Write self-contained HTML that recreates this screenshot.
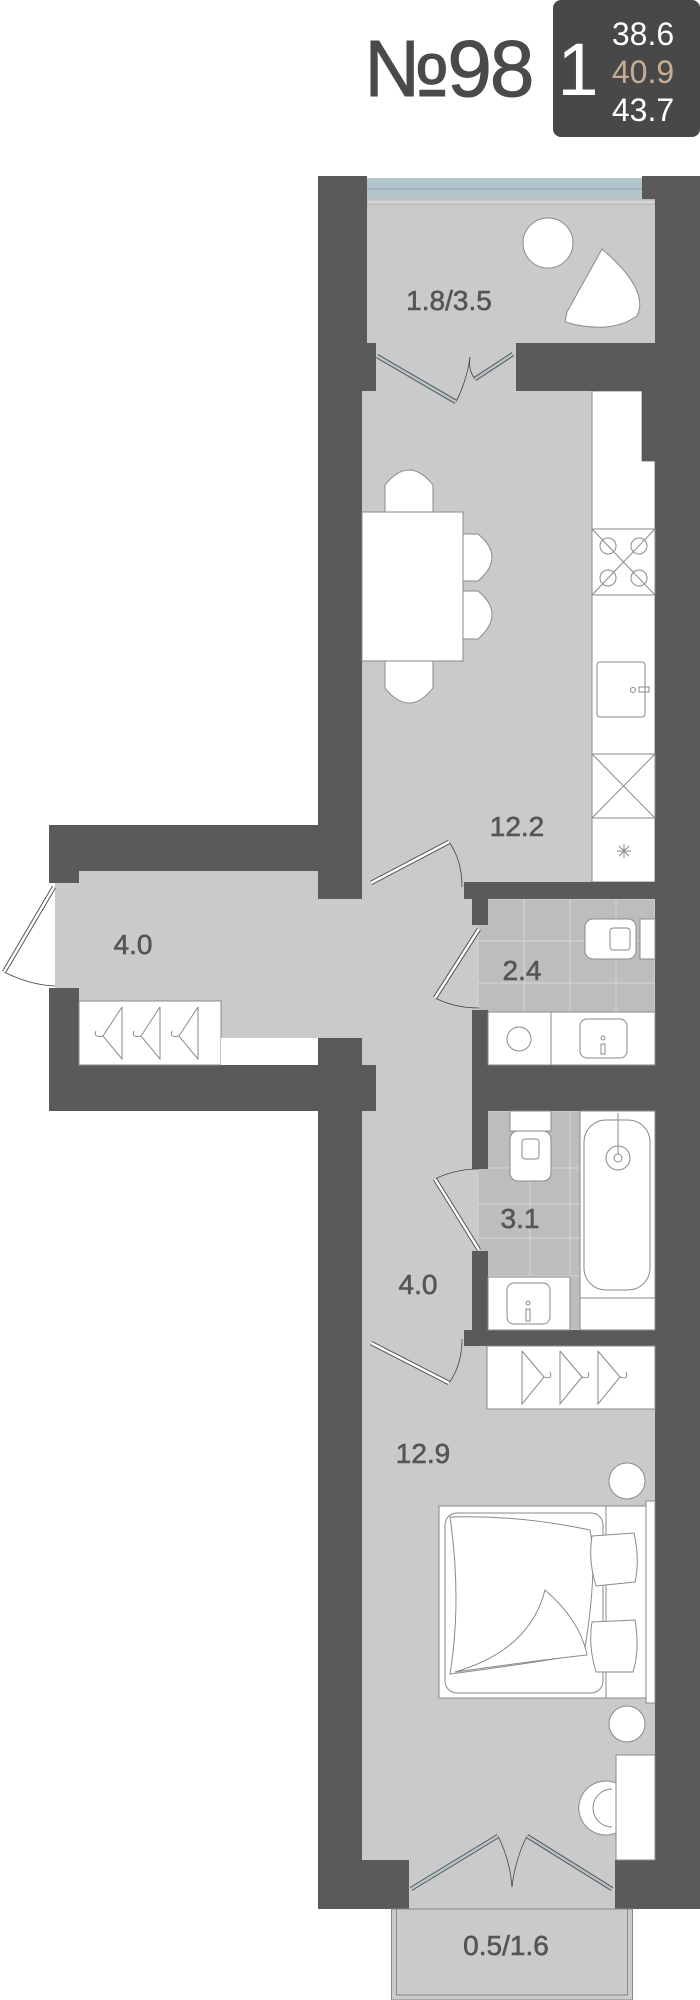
<!DOCTYPE html>
<html><head><meta charset="utf-8"><style>
html,body{margin:0;padding:0;background:#fff;}
svg{display:block;}
text{font-family:"Liberation Sans","DejaVu Sans",sans-serif;}
</style></head><body>
<svg width="700" height="2000" viewBox="0 0 700 2000" xmlns="http://www.w3.org/2000/svg">
<!-- header -->
<text x="448" y="96" font-size="80" fill="#4a4a4a" text-anchor="middle" letter-spacing="-2" stroke="#4a4a4a" stroke-width="1">№98</text>
<rect x="553" y="0" width="147" height="137" rx="8" fill="#484848"/>
<text x="578" y="95" font-size="74" fill="#fff" text-anchor="middle">1</text>
<text x="643" y="45" font-size="32" fill="#fff" text-anchor="middle">38.6</text>
<text x="643" y="83" font-size="32" fill="#c9ad93" text-anchor="middle">40.9</text>
<text x="643" y="121" font-size="32" fill="#fff" text-anchor="middle">43.7</text>

<!-- floors -->
<g fill="#cbcacb">
<rect x="362" y="199" width="293" height="1710"/>
<rect x="55" y="871" width="310" height="167"/>
<rect x="391" y="1905" width="242" height="95"/>
</g>
<!-- tiled bathrooms -->
<g fill="#bdbdbd" stroke="#d3d3d3" stroke-width="1.2">
<rect x="478" y="899" width="177" height="113"/>
<rect x="478" y="1111" width="102" height="219"/>
</g>
<g stroke="#d3d3d3" stroke-width="1.2">
<line x1="524" y1="899" x2="524" y2="1012"/><line x1="570" y1="899" x2="570" y2="1012"/><line x1="616" y1="899" x2="616" y2="1012"/>
<line x1="478" y1="941" x2="655" y2="941"/><line x1="478" y1="983" x2="655" y2="983"/>
<line x1="530" y1="1111" x2="530" y2="1330"/><line x1="570" y1="1111" x2="570" y2="1330"/>
<line x1="478" y1="1168" x2="580" y2="1168"/><line x1="478" y1="1204" x2="580" y2="1204"/><line x1="478" y1="1238" x2="580" y2="1238"/><line x1="478" y1="1276" x2="580" y2="1276"/>
</g>

<!-- window top -->
<rect x="362" y="178" width="280" height="21" fill="#b4c4cb"/>
<line x1="362" y1="189" x2="642" y2="189" stroke="#8ea0a8" stroke-width="1"/>
<rect x="367" y="200" width="288" height="4" fill="#d8d8d8" stroke="#999" stroke-width="0.6"/>

<!-- kitchen counter -->
<path d="M592 391 H642 V461 H655 V882 H592 Z" fill="#fff" stroke="#8a8a8a" stroke-width="1"/>

<!-- walls -->
<g fill="#5a5a5a">
<rect x="318" y="176" width="44" height="723"/>
<rect x="362" y="176" width="5" height="167"/>
<rect x="642" y="176" width="58" height="23"/>
<rect x="655" y="176" width="45" height="1733"/>
<rect x="318" y="343" width="58" height="48"/>
<rect x="516" y="343" width="139" height="48"/>
<rect x="642" y="391" width="13" height="70"/>
<rect x="49" y="825" width="269" height="46"/>
<rect x="49" y="825" width="30" height="58"/>
<rect x="49" y="988" width="30" height="123"/>
<rect x="49" y="1065" width="327" height="46"/>
<rect x="318" y="1038" width="44" height="73"/>
<rect x="318" y="1111" width="44" height="798"/>
<rect x="318" y="1860" width="91" height="49"/>
<rect x="615" y="1860" width="85" height="49"/>
<rect x="464" y="882" width="191" height="17"/>
<rect x="472" y="899" width="16" height="26"/>
<rect x="472" y="1010" width="16" height="101"/>
<rect x="472" y="1065" width="183" height="46"/>
<rect x="472" y="1111" width="16" height="58"/>
<rect x="472" y="1251" width="16" height="79"/>
<rect x="464" y="1330" width="191" height="16"/>
</g>

<!-- balcony bottom -->
<rect x="391.5" y="1909" width="241" height="91" fill="none" stroke="#888" stroke-width="1"/>
<rect x="396.5" y="1909" width="231" height="86" fill="none" stroke="#888" stroke-width="1"/>

<!-- furniture -->
<g fill="#fff" stroke="#8a8a8a" stroke-width="1">
<circle cx="548" cy="243" r="25"/>
<path d="M602 249 Q650 290 637 316 Q610 335 565 322 L567 312 Z"/>
<rect x="592" y="529" width="63" height="66"/>
<rect x="597" y="662" width="48" height="55" rx="3"/>
<rect x="592" y="754" width="63" height="64"/>
<!-- table & chairs -->
<path d="M385 512 L385 485 Q409 455 433 485 L433 512"/>
<path d="M385 661 L385 688 Q409 718 433 688 L433 661"/>
<path d="M463 534 L478 534 Q506 557 478 581 L463 581"/>
<path d="M463 591 L478 591 Q506 614 478 639 L463 639"/>
<rect x="362" y="512" width="101" height="149"/>
<!-- wardrobe wing -->
<rect x="79" y="1001" width="142" height="64"/>
<rect x="221" y="1038" width="97" height="27" stroke="none"/>
<!-- bath 2.4 -->
<rect x="488" y="1012" width="167" height="53"/>
<line x1="551" y1="1012" x2="551" y2="1065"/>
<rect x="640" y="919" width="15" height="40"/>
<rect x="585" y="919" width="51" height="40" rx="8"/>
<rect x="610" y="928" width="20" height="22" rx="3"/>
<circle cx="519" cy="1039" r="12"/>
<rect x="580" y="1019" width="47" height="39" rx="7"/>
<!-- bath 3.1 -->
<rect x="510" y="1111" width="41" height="20"/>
<rect x="510" y="1131" width="41" height="50" rx="8"/>
<rect x="522" y="1139" width="17" height="20" rx="3"/>
<rect x="580" y="1111" width="75" height="219"/>
<line x1="580" y1="1298" x2="655" y2="1298"/>
<rect x="584" y="1120" width="66" height="170" rx="22"/>
<circle cx="618" cy="1158" r="12"/>
<circle cx="618" cy="1158" r="4"/>
<line x1="618" y1="1113" x2="618" y2="1154"/>
<rect x="488" y="1277" width="82" height="53"/>
<rect x="507" y="1283" width="43" height="41" rx="7"/>
<!-- bedroom -->
<rect x="487" y="1346" width="168" height="63"/>
<circle cx="627" cy="1481" r="18"/>
<circle cx="627" cy="1724" r="18"/>
<rect x="646" y="1501" width="9" height="202"/>
<rect x="439" y="1506" width="207" height="192"/>
<line x1="606" y1="1506" x2="606" y2="1698"/>
<rect x="445" y="1513" width="158" height="180" rx="12"/>
<path d="M450 1517 Q520 1515 590 1530 Q598 1570 584 1654 Q520 1665 450 1674 Q462 1600 450 1517 Z"/>
<path d="M545 1590 Q580 1620 587 1655 Q540 1660 455 1672 Q530 1650 545 1590 Z"/>
<path d="M592 1536 L634 1533 Q640 1560 635 1582 L596 1586 Q588 1560 592 1536 Z"/>
<path d="M592 1622 L635 1620 Q640 1650 633 1672 L596 1672 Q588 1645 592 1622 Z"/>
<rect x="616" y="1755" width="39" height="105"/>
<path d="M616 1783 A27 27 0 1 0 616 1833 Z"/>
</g>
<path d="M612 1789 A18 18 0 0 0 612 1827" fill="none" stroke="#8a8a8a"/>
<!-- details -->
<g stroke="#8a8a8a" stroke-width="1" fill="none">
<line x1="592" y1="529" x2="655" y2="595"/><line x1="655" y1="529" x2="592" y2="595"/>
<circle cx="608" cy="546" r="8"/><circle cx="639" cy="546" r="8"/><circle cx="608" cy="578" r="8"/><circle cx="639" cy="578" r="8"/>
<circle cx="633" cy="690" r="2.5"/><rect x="639" y="687" width="10" height="5"/>
<line x1="592" y1="754" x2="655" y2="818"/><line x1="655" y1="754" x2="592" y2="818"/>
<path d="M624 844 v14 M617 851 h14 M619 846 l10 10 M629 846 l-10 10"/>
<circle cx="603" cy="1038" r="2"/><rect x="601" y="1044" width="4" height="10"/>
<circle cx="528" cy="1303" r="2"/><rect x="526" y="1309" width="4" height="12"/>
<path d="M122 1007 L122 1059 L103 1036 Q93 1038 96 1031 M122 1007 L103 1036"/>
<path d="M160 1007 L160 1059 L141 1036 Q131 1038 134 1031 M160 1007 L141 1036"/>
<path d="M198 1007 L198 1059 L179 1036 Q169 1038 172 1031 M198 1007 L179 1036"/>
<path d="M522 1351 L522 1404 L544 1377 Q553 1380 550 1372 M522 1351 L544 1377"/>
<path d="M560 1351 L560 1404 L582 1377 Q591 1380 588 1372 M560 1351 L582 1377"/>
<path d="M598 1351 L598 1404 L620 1377 Q629 1380 626 1372 M598 1351 L620 1377"/>
</g>

<!-- doors -->
<g stroke="#444" stroke-width="0.8" fill="none">
<path d="M456 402 Q467 380 470 357"/><path d="M475 379 Q468 370 470 357"/>
<path d="M449 842 Q462 860 462 887"/>
<path d="M4 972 Q30 985 55 986"/>
<path d="M435 998 Q455 1008 479 1008"/>
<path d="M435 1179 Q455 1169 479 1169"/>
<path d="M449 1383 Q462 1365 462 1339"/>
<path d="M498 1836 Q510 1860 512 1887"/><path d="M527 1836 Q515 1860 512 1887"/>
</g>
<g stroke="#555" stroke-width="4.5" stroke-linecap="butt">
<line x1="377" y1="356" x2="456" y2="402"/><line x1="513" y1="354" x2="475" y2="379"/>
<line x1="411" y1="1889" x2="498" y2="1836"/><line x1="612" y1="1889" x2="527" y2="1836"/>
<line x1="371" y1="883" x2="449" y2="842"/>
<line x1="54" y1="887" x2="4" y2="972"/>
<line x1="479" y1="929" x2="435" y2="998"/>
<line x1="479" y1="1250" x2="435" y2="1179"/>
<line x1="371" y1="1343" x2="449" y2="1383"/>
</g>
<g stroke-width="2.5" stroke-linecap="butt">
<line x1="377" y1="356" x2="456" y2="402" stroke="#b4c4cb"/><line x1="513" y1="354" x2="475" y2="379" stroke="#b4c4cb"/>
<line x1="411" y1="1889" x2="498" y2="1836" stroke="#b4c4cb"/><line x1="612" y1="1889" x2="527" y2="1836" stroke="#b4c4cb"/>
<line x1="371" y1="883" x2="449" y2="842" stroke="#fff"/>
<line x1="54" y1="887" x2="4" y2="972" stroke="#fff"/>
<line x1="479" y1="929" x2="435" y2="998" stroke="#fff"/>
<line x1="479" y1="1250" x2="435" y2="1179" stroke="#fff"/>
<line x1="371" y1="1343" x2="449" y2="1383" stroke="#fff"/>
</g>

<!-- labels -->
<g fill="#555" text-anchor="middle" font-size="28" stroke="#555" stroke-width="0.6">
<text x="449" y="310">1.8/3.5</text>
<text x="517" y="836">12.2</text>
<text x="133" y="954">4.0</text>
<text x="522" y="980">2.4</text>
<text x="520" y="1228">3.1</text>
<text x="418" y="1294">4.0</text>
<text x="423" y="1463">12.9</text>
<text x="506" y="1955">0.5/1.6</text>
</g>
</svg>
</body></html>
